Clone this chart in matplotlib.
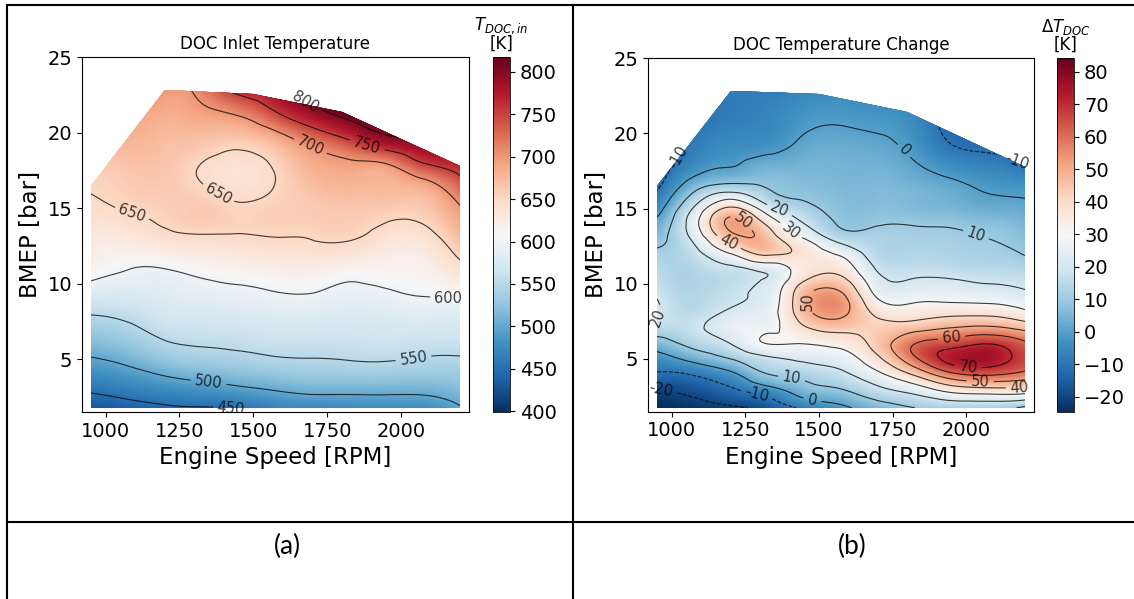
import numpy as np
import matplotlib
matplotlib.use("Agg")
import matplotlib.pyplot as plt
import matplotlib.tri as mtri
from matplotlib.patches import Polygon
from matplotlib.lines import Line2D

# ---------------- data ----------------
speed = [950, 1075, 1200, 1325, 1450, 1575, 1700, 1825, 1950, 2075, 2200]

bmep_in = [1.75, 3, 5, 7, 9, 11, 13, 15, 17, 18, 19, 20, 21, 23]
t_doc_in = [  # rows: bmep_in, columns: speed  [K]
    [428, 436, 444, 447, 452, 468, 472, 475, 477, 478, 497],
    [455, 465, 476, 484, 493, 502, 509, 509, 509, 509, 517],
    [497, 509, 527, 536, 541, 547, 549, 551, 552, 548, 547],
    [533, 543, 560, 564, 567, 571, 571, 570, 572, 572, 572],
    [572, 573, 580, 585, 589, 594, 595, 588, 592, 598, 598],
    [615, 601, 600, 609, 615, 621, 622, 614, 614, 618, 640],
    [628, 629, 640, 645, 646, 649, 651, 652, 637, 637, 672],
    [644, 652, 658, 662, 654, 658, 662, 665, 662, 663, 697],
    [655, 662, 664, 648, 636, 650, 675, 682, 680, 702, 745],
    [660, 668, 667, 650, 640, 655, 684, 695, 702, 750, 770],
    [665, 675, 670, 662, 652, 668, 699, 727, 760, 785, 790],
    [672, 682, 675, 674, 672, 695, 735, 770, 805, 810, 810],
    [680, 690, 682, 688, 696, 735, 775, 805, 830, 830, 830],
    [695, 705, 700, 712, 775, 790, 830, 850, 860, 860, 860],
]

bmep_dt = [1.75, 3, 4, 5, 6, 7, 8, 9, 10, 11, 12, 13, 14, 15, 16, 17, 19, 21, 23]
delta_t_doc = [  # rows: bmep_dt, columns: speed  [K]
    [-25, -23, -21, -17, -8, -2, 5, 10, 12, 12, 8],
    [-20, -17, -11, -3, 6, 10, 18, 25, 35, 38, 37],
    [-11, -9, -2, 10, 13, 18, 28, 42, 58, 62, 57],
    [-4, 3, 10, 18, 22, 25, 38, 58, 73, 75, 66],
    [5, 13, 20, 30, 30, 33, 44, 60, 66, 70, 62],
    [15, 18, 25, 28, 38, 43, 43, 47, 51, 53, 48],
    [21, 16, 22, 26, 46, 52, 38, 36, 38, 38, 33],
    [20, 14, 18, 24, 48, 53, 30, 28, 28, 27, 24],
    [17, 13, 16, 22, 42, 45, 24, 22, 22, 20, 18],
    [15, 14, 18, 23, 35, 36, 19, 17, 16, 15, 14],
    [12, 17, 30, 42, 37, 28, 15, 14, 13, 12, 9.5],
    [7, 22, 45, 46, 30, 16, 13, 12, 11.5, 10, 7],
    [3, 26, 52, 38, 20, 9, 9.5, 9.5, 9, 7.5, 5],
    [-4, 21, 42, 24, 13, 7, 7, 6, 5, 3, 2],
    [-9, 11, 22, 12, 8, 6, 6, 5, 3, 0, -1],
    [-14, 1, 6, 7, 6, 5, 5, 3, 0, -3, -5],
    [-16, -8, -4, -2, 2, 3, 2, -2, -9, -11, -14],
    [-16, -11, -8, -6, -2, -1, -2, -5, -13, -14, -16],
    [-16, -12, -8, -8, -6, -5, -6, -8, -14, -16, -18],
]

# operating envelope of the engine map
env_speed = [950, 950, 1200, 1500, 1800, 2200, 2200]
env_bmep = [1.75, 16.5, 22.85, 22.6, 21.4, 17.8, 1.75]

levels_in = [450, 500, 550, 600, 650, 700, 750, 800]
levels_dt = [-20, -10, 0, 10, 20, 30, 40, 50, 60, 70]
cticks_in = [400, 450, 500, 550, 600, 650, 700, 750, 800]
cticks_dt = [-20, -10, 0, 10, 20, 30, 40, 50, 60, 70, 80]

# where the contour labels sit (speed, bmep)
labels_in = [(1674, 21.9), (1884, 19.1), (1693, 19.1), (1399, 16.5),
             (1088, 14.6), (2160, 9.4), (2042, 5.1), (1348, 3.5), (1425, 1.85)]
labels_dt = [(1034, 18.3), (1787, 18.8), (2175, 18.2), (2030, 13.1),
             (1368, 15.0), (1402, 13.5), (1237, 14.1), (1192, 12.7),
             (1509, 8.8), (977, 7.4), (1950, 6.5), (2008, 4.7), (2047, 3.4),
             (2180, 3.2), (1407, 3.7), (1288, 2.6), (1475, 2.0), (960, 2.6)]

# ---------------- figure ----------------
W, H = 1134, 599
fig = plt.figure(figsize=(W / 100, H / 100), dpi=100)


def frac(x0, y0, x1, y1):
    return [x0 / W, 1 - y1 / H, (x1 - x0) / W, (y1 - y0) / H]


def draw_map(ax, cax, bmep, values, lo, hi, levels, label_pos, cticks, title,
             ctitle):
    xs = np.asarray(speed, float)
    ys = np.asarray(bmep, float)
    X, Y = np.meshgrid(xs, ys)
    Z = np.asarray(values, float)
    tri = mtri.Triangulation(X.ravel(), Y.ravel())
    interp = mtri.CubicTriInterpolator(tri, Z.ravel(), kind='min_E')
    xf = np.linspace(xs.min(), xs.max(), 420)
    yf = np.linspace(ys.min(), ys.max(), 420)
    XF, YF = np.meshgrid(xf, yf)
    ZF = np.ma.filled(interp(XF, YF), np.nan)

    verts = np.column_stack([env_speed, env_bmep])
    norm = plt.Normalize(lo, hi)
    pc = ax.pcolormesh(XF, YF, ZF, cmap='RdBu_r', norm=norm, shading='gouraud',
                       rasterized=True)
    clip = Polygon(verts, closed=True, transform=ax.transData,
                   facecolor='none', edgecolor='none')
    ax.add_patch(clip)
    pc.set_clip_path(clip)

    cs = ax.contour(XF, YF, ZF, levels=levels, colors='k', linewidths=0.8,
                    alpha=0.75)
    cs.set_clip_path(clip)
    ax.clabel(cs, fmt='%d', fontsize=10.5, inline=True, manual=label_pos)

    ax.set_xlim(920, 2230)
    ax.set_ylim(1.5, 25)
    ax.set_xticks([1000, 1250, 1500, 1750, 2000])
    ax.set_yticks([5, 10, 15, 20, 25])
    ax.tick_params(labelsize=14)
    ax.set_title(title, fontsize=12)
    ax.set_xlabel('Engine Speed [RPM]', fontsize=16.5)
    ax.set_ylabel('BMEP [bar]', fontsize=16.5)

    cb = fig.colorbar(pc, cax=cax, ticks=cticks)
    cb.ax.tick_params(labelsize=14)
    cb.outline.set_linewidth(0.6)
    cax.set_title(ctitle, fontsize=12, linespacing=0.95)


ax1 = fig.add_axes(frac(82, 57.3, 469, 412.2))
cax1 = fig.add_axes(frac(492.7, 57.3, 510, 412.2))
ax2 = fig.add_axes(frac(648.2, 58.3, 1034, 411.5))
cax2 = fig.add_axes(frac(1056.7, 58.3, 1074.3, 411.7))

draw_map(ax1, cax1, bmep_in, t_doc_in, 399, 817, levels_in, labels_in,
         cticks_in, 'DOC Inlet Temperature', '$T_{DOC,in}$\n[K]')
draw_map(ax2, cax2, bmep_dt, delta_t_doc, -24.6, 84.1, levels_dt, labels_dt,
         cticks_dt, 'DOC Temperature Change', '$\\Delta T_{DOC}$\n[K]')

# ---------------- table frame ----------------
def line(x0, y0, x1, y1):
    fig.add_artist(Line2D([x0 / W, x1 / W], [1 - y0 / H, 1 - y1 / H],
                          color='k', lw=1.5, solid_capstyle='butt'))

line(6, 5, W, 5)
line(6.5, 5, 6.5, H)
line(572.7, 5, 572.7, H)
line(6.5, 521.7, W, 521.7)

fig.text(287 / W, 1 - 546 / H, '(a)', ha='center', va='center', fontsize=19,
         family='Lato')
fig.text(852 / W, 1 - 546 / H, '(b)', ha='center', va='center', fontsize=19,
         family='Lato')

fig.savefig('out.png', dpi=100)
